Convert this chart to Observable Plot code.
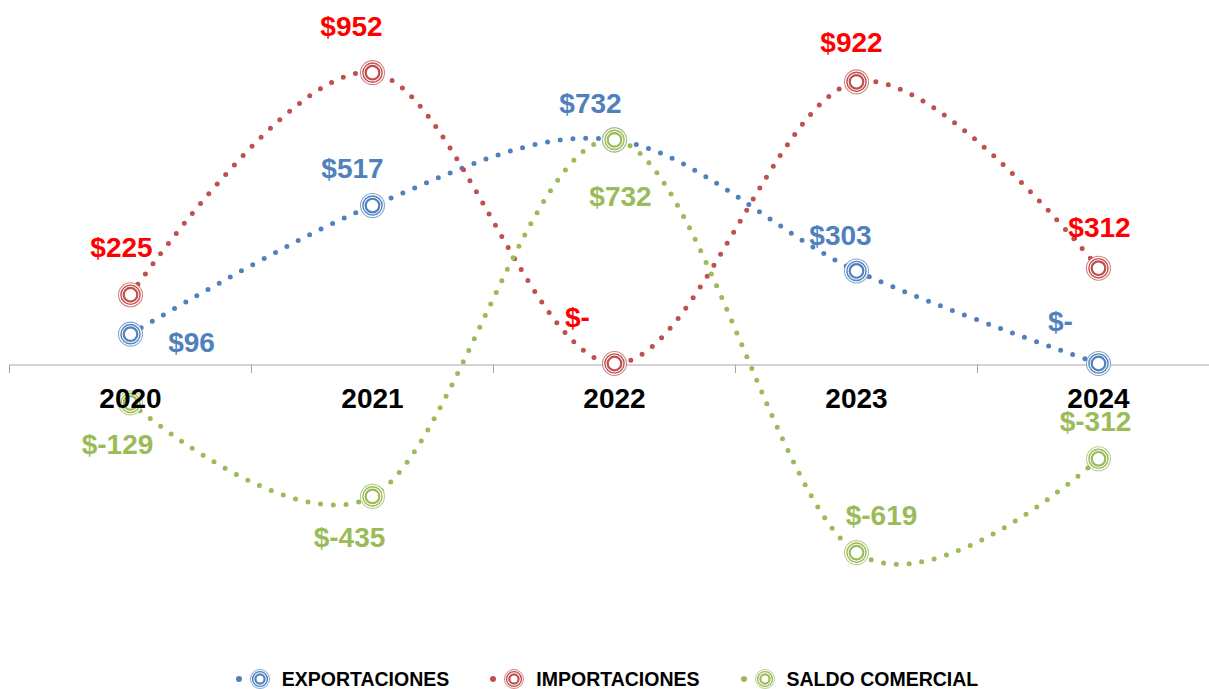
<!DOCTYPE html>
<html><head><meta charset="utf-8">
<script src="https://cdn.jsdelivr.net/npm/d3@7"></script>
<script src="https://cdn.jsdelivr.net/npm/@observablehq/plot@0.6"></script>
<style>
html,body{margin:0;padding:0;background:#fff;overflow:hidden;}
body{font-family:"Liberation Sans",Arial,sans-serif;}
#legend{display:flex;justify-content:center;align-items:center;height:26px;font-weight:bold;font-size:19.5px;color:#000;padding-left:4px;}
.item{display:flex;align-items:center;margin-right:40px;}
.item:last-child{margin-right:0;}
.item svg{display:block;margin-right:5px;}
</style></head><body>
<div id="chart"></div>
<div id="legend"></div>
<script>
// ---- data ----
const years = [2020, 2021, 2022, 2023, 2024];
const exportaciones = [96, 517, 732, 303, 0];
const importaciones = [225, 952, 0, 922, 312];
const saldoComercial = [-129, -435, 732, -619, -312];
const seriesNames = ["EXPORTACIONES", "IMPORTACIONES", "SALDO COMERCIAL"];
const seriesValues = [exportaciones, importaciones, saldoComercial];
const lineColors = ["#4F81BD", "#C0504D", "#9BBB59"];
const labelColors = ["#4F81BD", "#FF0000", "#9BBB59"];
// label placement (annotation offsets in px) per series, per year
const labelOffsets = [
  [[61, 9], [-20, -37], [-24, -36], [-16, -35], [-38, -41]],
  [[-9, -47], [-21, -46], [-37, -45], [-5, -39], [1, -40]],
  [[-13, 42], [-23, 42], [6, 57], [25, -37], [-3, -37]]
];
const bounds = [2019.5, 2020.5, 2021.5, 2022.5, 2023.5];

const fmt = v => v === 0 ? "$-" : "$" + v;
const rows = seriesNames.flatMap((name, i) =>
  years.map((year, j) => ({serie: name, si: i, year, value: seriesValues[i][j]})));

const s = 0.3055, y0 = 363;
const marks = [
  Plot.ruleY([0], {stroke: "#a6a6a6", strokeWidth: 1, dy: 1.5}),
  Plot.ruleX(bounds, {x: d => d, y1: 0, y2: -28, stroke: "#a6a6a6", strokeWidth: 1, dy: 1.5}),
  Plot.line(rows, {x: "year", y: "value", z: "serie", stroke: "serie", strokeWidth: 5,
    strokeDasharray: "0 12.8", strokeLinecap: "round", curve: "cardinal"})
];
seriesNames.forEach((name, i) => {
  const d = rows.filter(r => r.si === i);
  marks.push(
    Plot.dot(d, {x: "year", y: "value", r: 12, fill: "white", stroke: lineColors[i], strokeWidth: 1.1, strokeOpacity: 0.7}),
    Plot.dot(d, {x: "year", y: "value", r: 9.6, fill: "none", stroke: lineColors[i], strokeWidth: 1.4}),
    Plot.dot(d, {x: "year", y: "value", r: 6.8, fill: "white", stroke: lineColors[i], strokeWidth: 2.2})
  );
});
marks.push(Plot.text(years, {x: d => d, y: 0, text: d => String(d), dy: 36, fontSize: 28,
  fontWeight: "bold", fill: "#000", textAnchor: "middle", lineAnchor: "middle"}));
rows.forEach((r) => {
  const j = years.indexOf(r.year);
  const [dx, dy] = labelOffsets[r.si][j];
  marks.push(Plot.text([r], {x: "year", y: "value", text: d => fmt(d.value), dx, dy,
    fontSize: 28, fontWeight: "bold", fill: labelColors[r.si], textAnchor: "middle", lineAnchor: "middle"}));
});

const chart = Plot.plot({
  width: 1209, height: 666,
  marginLeft: 10, marginRight: 0, marginTop: 0, marginBottom: 0,
  style: {fontFamily: "'Liberation Sans', Arial, sans-serif", background: "#fff", overflow: "visible"},
  x: {type: "linear", domain: [2019.5, 2024.5], range: [9, 1219], axis: null},
  y: {domain: [-800, 1000], range: [y0 + 800 * s, y0 - 1000 * s], axis: null},
  color: {domain: seriesNames, range: lineColors},
  marks
});
document.getElementById("chart").appendChild(chart);

// legend
const legend = document.getElementById("legend");
seriesNames.forEach((name, i) => {
  const c = lineColors[i];
  const item = document.createElement("div");
  item.className = "item";
  item.innerHTML = `<svg width="42" height="24" viewBox="0 0 42 24">
    <circle cx="4" cy="12" r="3" fill="${c}"/>
    <circle cx="25" cy="12" r="9.5" fill="white" stroke="${c}" stroke-width="1" stroke-opacity="0.7"/>
    <circle cx="25" cy="12" r="7.4" fill="none" stroke="${c}" stroke-width="1.4"/>
    <circle cx="25" cy="12" r="4.6" fill="white" stroke="${c}" stroke-width="2.2"/>
  </svg><span>${name}</span>`;
  legend.appendChild(item);
});
</script>
</body></html>
